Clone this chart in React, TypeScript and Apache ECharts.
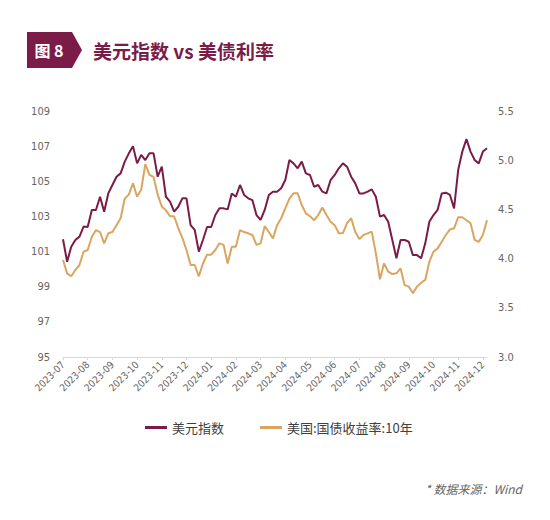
import React, { useEffect, useRef } from 'react';
import * as echarts from 'echarts';

const months = [
  '2023-07', '2023-08', '2023-09', '2023-10', '2023-11', '2023-12',
  '2024-01', '2024-02', '2024-03', '2024-04', '2024-05', '2024-06',
  '2024-07', '2024-08', '2024-09', '2024-10', '2024-11', '2024-12',
];
const sampleDays = ['01', '06', '11', '16', '21', '26'];

const dxy = [
  101.7, 100.42, 101.28, 101.66, 101.85, 102.42, 102.4, 103.37, 103.37, 104.12,
  103.27, 104.31, 104.79, 105.26, 105.45, 106.12, 106.59, 107.0, 106.02, 106.5,
  106.21, 106.59, 106.59, 105.26, 105.83, 104.12, 103.84, 103.27, 103.55, 104.03,
  104.03, 102.51, 102.23, 101.0, 101.66, 102.4, 102.4,
  103.08, 103.46, 103.46, 103.4, 104.31, 104.12, 104.79, 104.22, 104.03, 103.93,
  103.08, 102.8, 103.37, 104.22, 104.41, 104.41, 104.6, 105.07, 106.21, 106.02,
  105.74, 106.12, 105.45, 105.36, 104.69, 104.79, 104.41, 104.31, 105.07, 105.36,
  105.74, 106.02, 105.83, 105.26, 104.88, 104.31,
  104.31, 104.41, 104.54, 104.12, 102.99, 103.08, 102.7, 101.66, 100.62, 101.66,
  101.66, 101.56, 100.8, 100.8, 100.62, 101.47, 102.7, 103.08, 103.37, 104.31,
  104.35, 104.22, 103.46, 105.64, 106.69, 107.4, 106.69, 106.21, 106.02, 106.69,
  106.88,
];

const ust10y = [
  3.986, 3.85, 3.82, 3.884, 3.935, 4.07, 4.087, 4.22, 4.29, 4.27,
  4.155, 4.257, 4.27, 4.34, 4.41, 4.61, 4.65, 4.765, 4.63, 4.7,
  4.96, 4.85, 4.83, 4.65, 4.53, 4.49, 4.43, 4.43, 4.31, 4.21,
  4.087, 3.935, 3.935, 3.82, 3.95, 4.04, 4.04,
  4.087, 4.155, 4.14, 3.95, 4.12, 4.12, 4.29, 4.27, 4.257, 4.24,
  4.14, 4.155, 4.33, 4.27, 4.206, 4.34, 4.41, 4.51, 4.61, 4.663,
  4.663, 4.545, 4.46, 4.43, 4.39, 4.443, 4.52, 4.443, 4.375, 4.34,
  4.257, 4.26, 4.36, 4.41, 4.27, 4.2,
  4.24, 4.257, 4.274, 4.054, 3.79, 3.952, 3.867, 3.843, 3.85, 3.9,
  3.73, 3.715, 3.647, 3.715, 3.755, 3.783, 3.969, 4.07, 4.104, 4.172,
  4.24, 4.297, 4.308, 4.42, 4.42, 4.39, 4.36, 4.19, 4.17, 4.24,
  4.39,
];

const leftTicks = [95, 97, 99, 101, 103, 105, 107, 109];
const seriesNames = ['美元指数', '美国:国债收益率:10年'];

const categories: string[] = [];
months.forEach((m, k) => {
  const n = k === months.length - 1 ? 2 : 6;
  for (let j = 0; j < n; j++) categories.push(`${m}-${sampleDays[j]}`);
});

const MAROON = '#7A1C47';
const GOLD = '#D9A560';
const numFont = "'DejaVu Sans Condensed', 'Liberation Sans Narrow', 'Roboto', sans-serif";
const cjkFont = "'Noto Sans CJK SC', 'Noto Sans', sans-serif";

const showMonth = (index: number) => index % 6 === 0;

export default function App() {
  const ref = useRef<HTMLDivElement>(null);
  useEffect(() => {
    if (!ref.current) return;
    const chart = echarts.init(ref.current, undefined, { renderer: 'svg' });
    chart.setOption({
      animation: false,
      backgroundColor: '#ffffff',
      grid: { left: 63, right: 63, top: 111, bottom: 163 },
      legend: {
        left: 145,
        top: 421,
        padding: 0,
        icon: 'rect',
        itemWidth: 22,
        itemHeight: 3,
        itemGap: 36,
        data: seriesNames,
        textStyle: { color: '#404040', fontSize: 13, fontFamily: cjkFont },
      },
      xAxis: {
        type: 'category',
        data: categories,
        boundaryGap: false,
        axisLine: { show: true, lineStyle: { color: '#d9d9d9', width: 1 } },
        axisTick: { show: true, interval: showMonth, length: 3, lineStyle: { color: '#d9d9d9' } },
        axisLabel: {
          interval: showMonth,
          rotate: 45,
          formatter: (v: string) => v.slice(0, 7),
          color: '#666666',
          fontSize: 10,
          fontFamily: numFont,
          margin: 6,
        },
        splitLine: { show: false },
      },
      yAxis: [
        {
          type: 'value',
          min: 95,
          max: 109,
          position: 'left',
          axisLine: { show: false },
          axisTick: { show: false },
          splitLine: { show: false },
          axisLabel: {
            customValues: leftTicks,
            color: '#666666',
            fontSize: 11,
            fontFamily: numFont,
            margin: 13,
          },
        },
        {
          type: 'value',
          min: 3,
          max: 5.5,
          interval: 0.5,
          position: 'right',
          axisLine: { show: false },
          axisTick: { show: false },
          splitLine: { show: false },
          axisLabel: {
            formatter: (v: number) => v.toFixed(1),
            color: '#666666',
            fontSize: 11,
            fontFamily: numFont,
            margin: 11,
          },
        },
      ],
      series: [
        {
          name: seriesNames[0],
          type: 'line',
          yAxisIndex: 0,
          data: dxy,
          symbol: 'none',
          showSymbol: false,
          lineStyle: { color: MAROON, width: 2 },
          itemStyle: { color: MAROON },
        },
        {
          name: seriesNames[1],
          type: 'line',
          yAxisIndex: 1,
          data: ust10y,
          symbol: 'none',
          showSymbol: false,
          lineStyle: { color: GOLD, width: 2 },
          itemStyle: { color: GOLD },
        },
      ],
      graphic: [
        {
          type: 'polygon',
          shape: { points: [[27, 32], [72, 32], [82, 50], [72, 68], [27, 68]] },
          style: { fill: MAROON },
        },
        {
          type: 'text',
          x: 49,
          y: 50,
          style: {
            text: '图 8',
            fill: '#ffffff',
            fontSize: 16,
            fontWeight: 'bold',
            fontFamily: cjkFont,
            align: 'center',
            verticalAlign: 'middle',
          },
        },
        {
          type: 'text',
          x: 93,
          y: 50,
          style: {
            text: '美元指数 vs 美债利率',
            fill: MAROON,
            fontSize: 19,
            fontWeight: 'bold',
            fontFamily: cjkFont,
            align: 'left',
            verticalAlign: 'middle',
          },
        },
        {
          type: 'text',
          x: 522,
          y: 488,
          style: {
            text: '* 数据来源：Wind',
            fill: '#666666',
            fontSize: 12,
            fontStyle: 'italic',
            fontFamily: cjkFont,
            align: 'right',
            verticalAlign: 'middle',
          },
        },
      ],
    });
    return () => chart.dispose();
  }, []);
  return (
    <div
      ref={ref}
      style={{ position: 'absolute', left: 0, top: 0, width: 550, height: 520 }}
    />
  );
}
